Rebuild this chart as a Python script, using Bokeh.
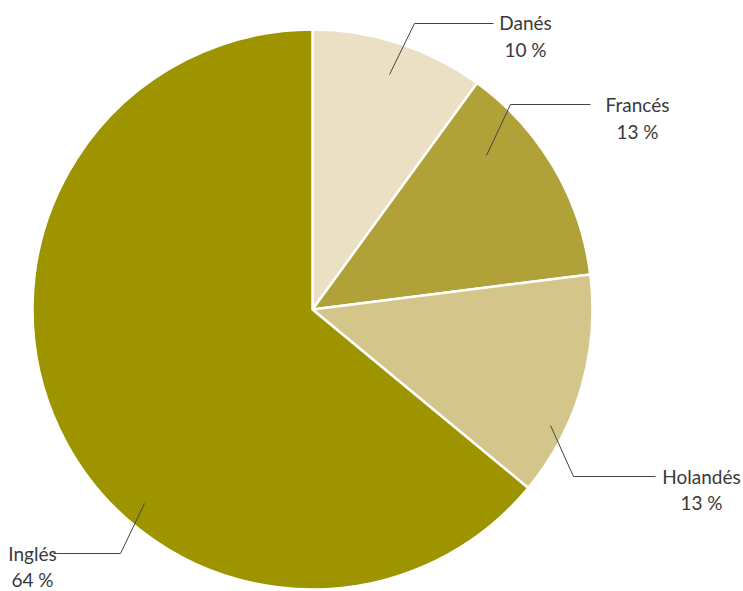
import math
from bokeh.plotting import figure
from bokeh.models import Range1d, ColumnDataSource
from bokeh.core.properties import value
from bokeh.embed import file_html
from bokeh.resources import INLINE

# ---- data ----
languages = ["Danés", "Francés", "Holandés", "Inglés"]
shares = [10, 13, 13, 64]
colors = ["#EBE0C3", "#B0A139", "#D4C68A", "#9E9400"]

# ---- layout (pixel positions from top-left) ----
W, H = 743, 591
CX, CY, R = 312, 309, 280
label_pos = [(525, 22, 49), (637, 104, 131), (701, 476, 502), (32, 553, 579)]
leaders = [
    [(389, 74), (414, 23), (493, 23)],
    [(486, 155), (510, 104), (590, 104)],
    [(550, 425), (573, 476), (655, 476)],
    [(144, 503), (120, 553), (53, 553)],
]

def fy(y):
    return H - y

p = figure(width=W, height=H, output_backend="svg", toolbar_location=None,
           x_range=Range1d(0, W), y_range=Range1d(0, H), min_border=0)
p.axis.visible = False
p.grid.visible = False
p.outline_line_color = None
p.background_fill_color = "white"
p.border_fill_color = "white"

total = sum(shares)
starts, ends = [], []
acc = 0.0
for s in shares:
    a0 = math.pi / 2 - 2 * math.pi * acc / total
    acc += s
    a1 = math.pi / 2 - 2 * math.pi * acc / total
    starts.append(a0)
    ends.append(a1)

src = ColumnDataSource(dict(start=starts, end=ends, color=colors,
                            x=[CX] * 4, y=[fy(CY)] * 4))
p.wedge(x="x", y="y", radius=R, start_angle="start", end_angle="end",
        direction="clock", fill_color="color", line_color="white",
        line_width=2.5, source=src)

for pts in leaders:
    p.line([q[0] for q in pts], [fy(q[1]) for q in pts],
           line_color="#444444", line_width=1)

names_x = [lp[0] for lp in label_pos]
names_y = [fy(lp[1]) for lp in label_pos]
pct_y = [fy(lp[2]) for lp in label_pos]
pct_txt = [f"{v} %" for v in shares]

for xs, ys, txt in [(names_x, names_y, languages), (names_x, pct_y, pct_txt)]:
    p.text(x=xs, y=ys, text=txt, text_align="center", text_baseline="middle",
           text_font=value("Lato"), text_font_size="19px", text_color="#3a3a3a")

open("out.html", "w").write(file_html(p, INLINE))
